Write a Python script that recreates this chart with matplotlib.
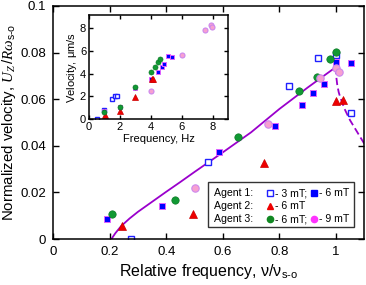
import numpy as np
import matplotlib
matplotlib.use("Agg")
import matplotlib.pyplot as plt
from matplotlib.ticker import FuncFormatter
from matplotlib.patches import Rectangle

plt.rcParams['font.family'] = ['Liberation Sans', 'DejaVu Sans']
plt.rcParams['mathtext.fontset'] = 'custom'
plt.rcParams['mathtext.rm'] = 'Liberation Sans'
plt.rcParams['mathtext.it'] = 'Liberation Serif:italic'

# Main plot data: relative frequency vs normalized velocity
a1_3mT_x = [0.274, 0.548, 0.834, 0.9375, 1.0, 1.052]
a1_3mT_y = [0.0, 0.0329, 0.0657, 0.0775, 0.079, 0.054]
a1_6mT_x = [0.189, 0.386, 0.585, 0.783, 0.879, 0.918, 0.959, 1.0, 1.055]
a1_6mT_y = [0.0085, 0.0142, 0.0375, 0.0486, 0.0575, 0.0625, 0.0665, 0.0758, 0.0757]
a2_6mT_x = [0.243, 0.496, 0.747, 1.0, 1.024]
a2_6mT_y = [0.0056, 0.0106, 0.0325, 0.0592, 0.0597]
a3_6mT_x = [0.21, 0.43, 0.653, 0.871, 0.933, 0.98, 1.0]
a3_6mT_y = [0.0106, 0.0166, 0.0436, 0.0635, 0.0697, 0.0773, 0.0804]
a3_9mT_x = [0.502, 0.759, 0.945, 1.0, 1.012]
a3_9mT_y = [0.0218, 0.0494, 0.0692, 0.0735, 0.0718]

# theory curves
fit_x = [0.206, 0.22, 0.24, 0.27, 0.30, 0.35, 0.40, 0.45, 0.50, 0.60, 0.70, 0.80, 0.90, 1.0]
fit_y = [0.0, 0.0025, 0.0055, 0.0088, 0.0117, 0.0160, 0.0203, 0.0245, 0.0288, 0.0372, 0.0458, 0.0558, 0.0650, 0.0738]
dash_x = [1.0, 1.002, 1.005, 1.01, 1.015, 1.03, 1.05, 1.07, 1.09, 1.1]
dash_y = [0.0738, 0.069, 0.066, 0.063, 0.061, 0.056, 0.051, 0.047, 0.043, 0.041]

# Inset data: frequency (Hz) vs velocity (um/s)
in_a1_3mT_f = [0.52, 1.0, 1.5, 1.69, 1.82]
in_a1_3mT_v = [0.03, 0.85, 1.75, 2.0, 2.03]
in_a1_6mT_f = [1.0, 2.0, 3.0, 4.0, 4.5, 4.7, 4.87, 5.13, 5.35]
in_a1_6mT_v = [0.75, 1.05, 2.7, 3.52, 4.16, 4.54, 4.83, 5.53, 5.47]
in_a2_f = [1.04, 2.04, 3.0, 4.05, 4.15]
in_a2_v = [0.38, 0.73, 1.92, 3.49, 3.5]
in_a3_6mT_f = [1.0, 2.0, 3.0, 4.0, 4.29, 4.48, 4.59]
in_a3_6mT_v = [0.65, 1.05, 2.8, 4.16, 4.54, 5.03, 5.24]
in_a3_9mT_f = [4.0, 6.0, 7.49, 7.88, 7.99]
in_a3_9mT_v = [2.5, 5.59, 7.8, 8.24, 8.09]

purple = '#9a00cc'
st_open = dict(marker='s', mfc='white', mec='#2020ff', mew=1.0, ls='none')
st_sq = dict(marker='s', mfc='#0000ff', mec='#e060ff', mew=0.7, ls='none')
st_tri = dict(marker='^', mfc='#ee0000', mec='#cc0000', mew=0.5, ls='none')
st_grn = dict(marker='o', mfc='#119933', mec='#0a7a25', mew=0.5, ls='none')
st_pink = dict(marker='o', mfc='#f7a0d0', mec='#cc88ee', mew=0.8, ls='none')

fig = plt.figure(figsize=(3.66, 2.85), dpi=100)
ax = fig.add_axes([0.145, 0.161, 0.85, 0.818])

ax.plot(fit_x, fit_y, color=purple, lw=1.3)
ax.plot(dash_x, dash_y, color=purple, lw=1.3, ls=(0, (4, 2)))
ax.plot(a1_3mT_x, a1_3mT_y, ms=4.3, **st_open)
ax.plot(a1_6mT_x, a1_6mT_y, ms=4.2, **st_sq)
ax.plot(a2_6mT_x, a2_6mT_y, ms=5.2, **st_tri)
ax.plot(a3_6mT_x, a3_6mT_y, ms=5.3, **st_grn)
ax.plot(a3_9mT_x, a3_9mT_y, ms=5.3, **st_pink)

ax.set_xlim(0, 1.1)
ax.set_ylim(0, 0.1)
ax.set_xticks([0, 0.2, 0.4, 0.6, 0.8, 1.0])
ax.set_yticks([0, 0.02, 0.04, 0.06, 0.08, 0.1])
ax.xaxis.set_major_formatter(FuncFormatter(lambda v, p: '%g' % round(v, 3)))
ax.yaxis.set_major_formatter(FuncFormatter(lambda v, p: '%g' % round(v, 3)))
ax.tick_params(direction='in', top=True, right=True, length=4, width=1, labelsize=9.5, pad=5)
for s in ax.spines.values():
    s.set_linewidth(1.1)
ax.set_xlabel(r'Relative frequency, $\mathrm{\nu/\nu_{s\text{-}o}}$', fontsize=11.5, labelpad=3)
ax.set_ylabel(r'Normalized velocity, $U_Z\,/R\omega_{\mathrm{s\text{-}o}}$', fontsize=10.8, labelpad=2)

# custom legend box
ax.add_patch(Rectangle((0.498, 0.052), 0.47, 0.193, transform=ax.transAxes,
                       fill=True, fc='white', ec='#333333', lw=1.0, zorder=5))
fs = 7.6
rows = [0.197, 0.142, 0.086]
tx = [0.516, 0.698, 0.714, 0.838, 0.854]
ax.text(tx[0], rows[0], 'Agent 1:', transform=ax.transAxes, fontsize=fs, va='center', zorder=6)
ax.plot([tx[1]], [rows[0]], transform=ax.transAxes, ms=4, zorder=6, **st_open)
ax.text(tx[2], rows[0], '- 3 mT;', transform=ax.transAxes, fontsize=fs, va='center', zorder=6)
ax.plot([tx[3]], [rows[0]], transform=ax.transAxes, ms=4, zorder=6, marker='s', mfc='#0000ff', mec='#0000ff', ls='none')
ax.text(tx[4], rows[0], '- 6 mT', transform=ax.transAxes, fontsize=fs, va='center', zorder=6)
ax.text(tx[0], rows[1], 'Agent 2:', transform=ax.transAxes, fontsize=fs, va='center', zorder=6)
ax.plot([tx[1]], [rows[1]], transform=ax.transAxes, ms=4.5, zorder=6, marker='^', mfc='#ee0000', mec='#ee0000', ls='none')
ax.text(tx[2], rows[1], '- 6 mT', transform=ax.transAxes, fontsize=fs, va='center', zorder=6)
ax.text(tx[0], rows[2], 'Agent 3:', transform=ax.transAxes, fontsize=fs, va='center', zorder=6)
ax.plot([tx[1]], [rows[2]], transform=ax.transAxes, ms=4.5, zorder=6, marker='o', mfc='#118822', mec='#118822', ls='none')
ax.text(tx[2], rows[2], '- 6 mT;', transform=ax.transAxes, fontsize=fs, va='center', zorder=6)
ax.plot([tx[3]], [rows[2]], transform=ax.transAxes, ms=4.5, zorder=6, marker='o', mfc='#ff33ff', mec='#ff33ff', ls='none')
ax.text(tx[4], rows[2], '- 9 mT', transform=ax.transAxes, fontsize=fs, va='center', zorder=6)

# inset
ins = fig.add_axes([0.243, 0.581, 0.380, 0.366])
ins.plot(in_a1_3mT_f, in_a1_3mT_v, ms=3.2, **st_open)
ins.plot(in_a1_6mT_f, in_a1_6mT_v, ms=3.2, **st_sq)
ins.plot(in_a2_f, in_a2_v, ms=4, **st_tri)
ins.plot(in_a3_6mT_f, in_a3_6mT_v, ms=3.6, **st_grn)
ins.plot(in_a3_9mT_f, in_a3_9mT_v, ms=3.6, **st_pink)
ins.set_xlim(0, 9)
ins.set_ylim(0, 9.1)
ins.set_xticks([0, 2, 4, 6, 8])
ins.set_yticks([0, 2, 4, 6, 8])
ins.tick_params(direction='in', top=True, right=True, length=3, width=1, labelsize=8, pad=2)
for s in ins.spines.values():
    s.set_linewidth(1.1)
ins.set_xlabel('Frequency, Hz', fontsize=8, labelpad=1)
ins.set_ylabel(r'Velocity, $\mathrm{\mu}$m/s', fontsize=8, labelpad=1)

fig.savefig('out.png', dpi=100)
